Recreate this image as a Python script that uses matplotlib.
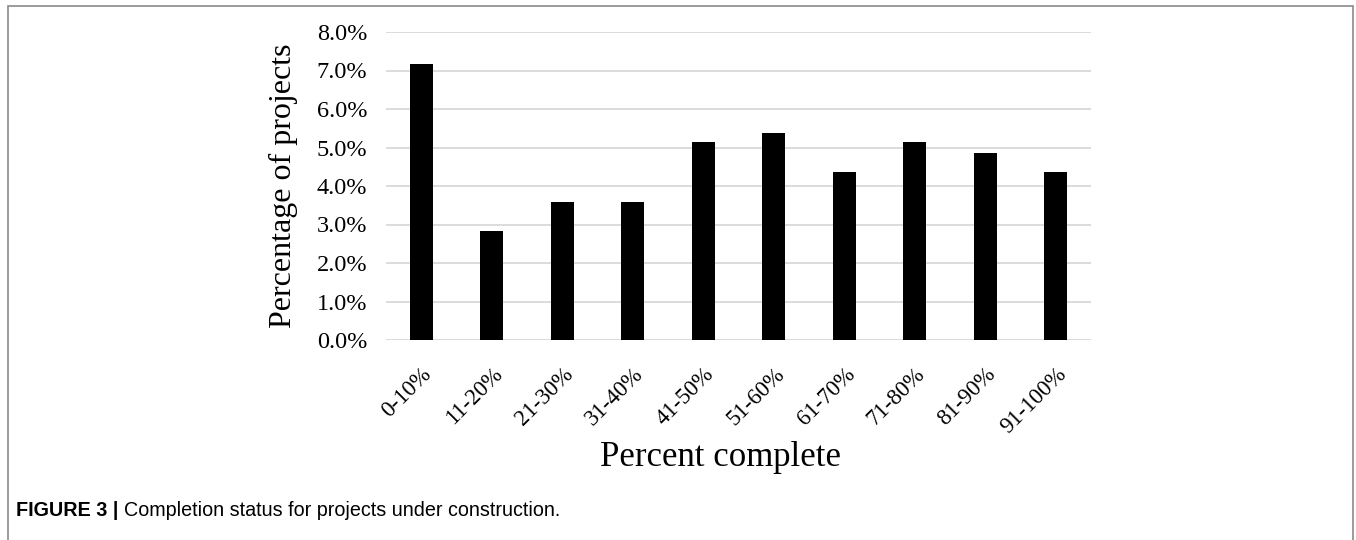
import matplotlib
matplotlib.use("Agg")
import matplotlib.pyplot as plt
from matplotlib.patches import Rectangle
from matplotlib.ticker import FuncFormatter

categories = ["0-10%", "11-20%", "21-30%", "31-40%", "41-50%",
              "51-60%", "61-70%", "71-80%", "81-90%", "91-100%"]
values = [7.18, 2.82, 3.59, 3.59, 5.13, 5.38, 4.36, 5.13, 4.87, 4.36]
yticks = [0, 1, 2, 3, 4, 5, 6, 7, 8]

W, H = 1356, 540
fig = plt.figure(figsize=(W / 100, H / 100), dpi=100)
ax = fig.add_axes([386 / W, 1 - 340 / H, 705 / W, 308 / H])

x = range(len(categories))
ax.bar(x, values, width=0.33, color="black", zorder=3)
ax.set_xlim(-0.5, len(categories) - 0.5)
ax.set_ylim(0, 8)
ax.set_yticks(yticks)
ax.yaxis.set_major_formatter(FuncFormatter(lambda v, p: f"{v:.1f}%"))
ax.set_xticks(list(x))
ax.set_xticklabels(categories, rotation=45, ha="right", rotation_mode="anchor",
                   fontfamily="Liberation Serif", fontsize=16.5)
for lab in ax.get_yticklabels():
    lab.set_fontfamily("Liberation Serif")
    lab.set_fontsize(17.5)
ax.tick_params(axis="both", length=0)
ax.tick_params(axis="y", pad=13.5)
ax.tick_params(axis="x", pad=17)
ax.grid(axis="y", color="#d9d9d9", linewidth=1.3, zorder=0)
for s in ax.spines.values():
    s.set_visible(False)
ax.set_ylabel("Percentage of projects", fontfamily="Liberation Serif", fontsize=23,
              va="center")
ax.yaxis.set_label_coords((283 - 386) / 705, 0.5)
ax.set_xlabel("Percent complete", fontfamily="Liberation Serif", fontsize=25,
              va="center")
ax.xaxis.set_label_coords((720 - 386) / 705, (340 - 457) / 308)

fig.patches.append(Rectangle((8 / W, -0.1), 1345 / W, 1.1 - 6 / H,
                             transform=fig.transFigure, fill=False,
                             edgecolor="#8a8a8a", linewidth=1.2))
t1 = fig.text(16 / W, 1 - 511 / H, "FIGURE 3 | ", fontfamily="Liberation Sans",
              fontweight="bold", fontsize=14.2, va="center", ha="left")
fig.canvas.draw()
bb = t1.get_window_extent()
fig.text(bb.x1 / W, 1 - 511 / H, "Completion status for projects under construction.",
         fontfamily="Liberation Sans", fontsize=14.2, va="center", ha="left")

fig.savefig("out.png", dpi=100)
